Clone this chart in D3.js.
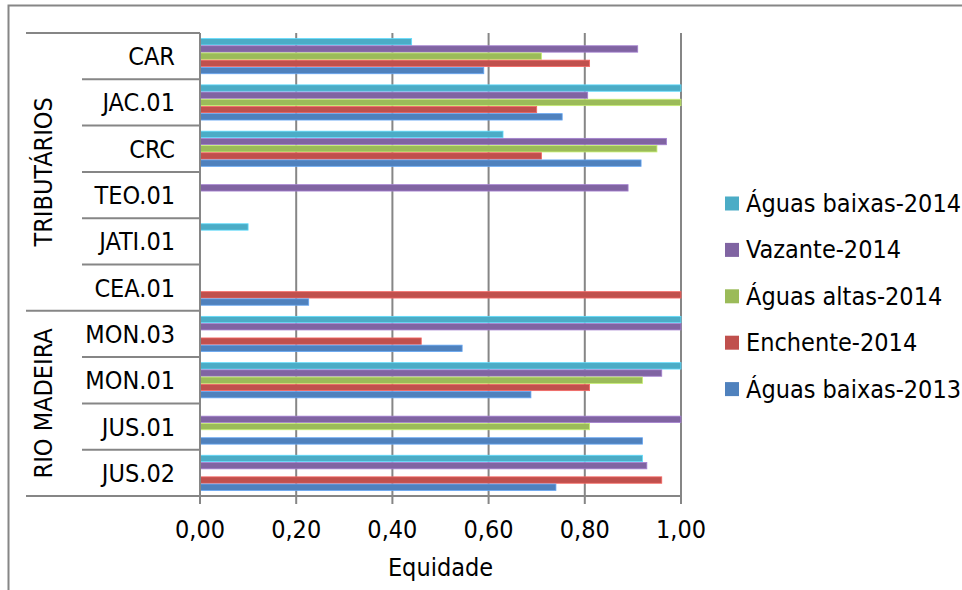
<!DOCTYPE html>
<html>
<head>
<meta charset="utf-8">
<script src="https://cdn.jsdelivr.net/npm/d3@7"></script>
<style>
  html, body { margin: 0; padding: 0; background: #fff; }
  svg { display: block; }
  text { font-family: "DejaVu Sans Condensed", "DejaVu Sans", sans-serif; font-stretch: condensed; fill: #000; }
</style>
</head>
<body>
<svg id="chart" width="962" height="590"></svg>
<script>
// Sampling sites, top to bottom
const categories = ["CAR", "JAC.01", "CRC", "TEO.01", "JATI.01", "CEA.01", "MON.03", "MON.01", "JUS.01", "JUS.02"];

// Site groups (label, first site, last site)
const groupNames = ["TRIBUTÁRIOS", "RIO MADEIRA"];
const groupFirst = ["CAR", "MON.03"];
const groupLast = ["CEA.01", "JUS.02"];

// Hydrological periods, in bar order within each site (top to bottom)
const seriesNames = ["Águas baixas-2014", "Vazante-2014", "Águas altas-2014", "Enchente-2014", "Águas baixas-2013"];
const seriesColors = ["#4BACC6", "#8064A2", "#9BBB59", "#C0504D", "#4F81BD"];

// Evenness (equidade) per site; null = no value
const aguasBaixas2014 = [0.44, 1.00, 0.63, null, 0.10, null, 1.00, 1.00, null, 0.92];
const vazante2014     = [0.91, 0.806, 0.97, 0.89, null, null, 1.00, 0.96, 1.00, 0.929];
const aguasAltas2014  = [0.71, 1.00, 0.95, null, null, null, null, 0.92, 0.81, null];
const enchente2014    = [0.81, 0.70, 0.71, null, null, 1.00, 0.46, 0.81, null, 0.96];
const aguasBaixas2013 = [0.59, 0.753, 0.917, null, null, 0.226, 0.545, 0.688, 0.92, 0.74];

const seriesValues = [aguasBaixas2014, vazante2014, aguasAltas2014, enchente2014, aguasBaixas2013];

const xTicks = [0, 0.2, 0.4, 0.6, 0.8, 1.0];
const xTitle = "Equidade";

// Layout
const plotL = 200, plotR = 681, plotT = 33, plotB = 496;
const catLineL = 82, groupLineL = 26;
const gridColor = "#868686";
const FS = 25;

const svg = d3.select("#chart");

// Outer chart frame (only top and left edges fall inside the canvas)
svg.append("rect")
  .attr("x", 8.5).attr("y", 5.5)
  .attr("width", 1000).attr("height", 1000)
  .attr("fill", "none").attr("stroke", gridColor).attr("stroke-width", 2);

const x = d3.scaleLinear().domain([0, 1]).range([plotL, plotR]);
const y = d3.scaleBand().domain(categories).range([plotT, plotB]).paddingInner(0).paddingOuter(0);
const step = y.step();
const gap = step * 0.223;
const ySeries = d3.scaleBand().domain(seriesNames).range([gap / 2, step - gap / 2]);

const fmt = v => d3.format(".2f")(v).replace(".", ",");

// Vertical gridlines (extend below the axis as tick marks)
svg.append("g").selectAll("line")
  .data(xTicks.slice(1))
  .join("line")
  .attr("x1", d => x(d)).attr("x2", d => x(d))
  .attr("y1", plotT).attr("y2", plotB + 8)
  .attr("stroke", gridColor).attr("stroke-width", 2);

// Bars
const barData = [];
seriesNames.forEach((s, si) => {
  categories.forEach((c, ci) => {
    const v = seriesValues[si][ci];
    if (v !== null && v !== undefined) barData.push({ s, si, c, v });
  });
});

svg.append("g").selectAll("rect")
  .data(barData)
  .join("rect")
  .attr("x", x(0))
  .attr("y", d => y(d.c) + ySeries(d.s) + 0.4)
  .attr("width", d => x(d.v) - x(0))
  .attr("height", ySeries.bandwidth() - 0.8)
  .attr("fill", d => seriesColors[d.si])
  .attr("stroke", d => d3.color(seriesColors[d.si]).brighter(0.7))
  .attr("stroke-width", 0.8);

// Bottom axis line and tick labels
const xAxis = svg.append("g");
xAxis.append("line")
  .attr("x1", x(0)).attr("x2", x(1))
  .attr("y1", plotB).attr("y2", plotB)
  .attr("stroke", gridColor).attr("stroke-width", 2);
xAxis.append("line")
  .attr("x1", x(0)).attr("x2", x(0))
  .attr("y1", plotB).attr("y2", plotB + 8)
  .attr("stroke", gridColor).attr("stroke-width", 2);
xAxis.selectAll("text")
  .data(xTicks)
  .join("text")
  .attr("x", d => x(d))
  .attr("y", 538)
  .attr("text-anchor", "middle")
  .attr("font-size", FS)
  .text(fmt);

svg.append("text")
  .attr("x", (plotL + plotR) / 2)
  .attr("y", 576)
  .attr("text-anchor", "middle")
  .attr("font-size", FS)
  .text(xTitle);

// Left category axis: vertical line, separators and labels
const yAxis = svg.append("g");
yAxis.append("line")
  .attr("x1", plotL).attr("x2", plotL)
  .attr("y1", plotT).attr("y2", plotB)
  .attr("stroke", gridColor).attr("stroke-width", 2);

const groupStarts = new Set(groupFirst.map(c => y(c)));
const boundaries = categories.map(c => y(c)).concat([plotB]);
yAxis.selectAll("line.sep")
  .data(boundaries)
  .join("line")
  .attr("class", "sep")
  .attr("x1", d => (groupStarts.has(d) || d === plotB) ? groupLineL : catLineL)
  .attr("x2", plotL)
  .attr("y1", d => d).attr("y2", d => d)
  .attr("stroke", gridColor).attr("stroke-width", 2);

yAxis.selectAll("text.cat")
  .data(categories)
  .join("text")
  .attr("class", "cat")
  .attr("x", 175)
  .attr("y", d => y(d) + step / 2 + 9)
  .attr("text-anchor", "end")
  .attr("font-size", FS)
  .text(d => d);

// Group labels, rotated
groupNames.forEach((g, i) => {
  const top = y(groupFirst[i]);
  const bot = y(groupLast[i]) + step;
  const cy = (top + bot) / 2;
  yAxis.append("text")
    .attr("transform", `translate(52,${cy}) rotate(-90)`)
    .attr("text-anchor", "middle")
    .attr("font-size", FS)
    .text(g);
});

// Legend
const legend = svg.append("g");
seriesNames.forEach((s, i) => {
  const cy = 203.5 + i * 46.4;
  legend.append("rect")
    .attr("x", 725).attr("y", cy - 7)
    .attr("width", 14).attr("height", 14)
    .attr("fill", seriesColors[i]);
  legend.append("text")
    .attr("x", 746)
    .attr("y", cy + 8.5)
    .attr("font-size", FS)
    .text(s);
});
</script>
</body>
</html>
